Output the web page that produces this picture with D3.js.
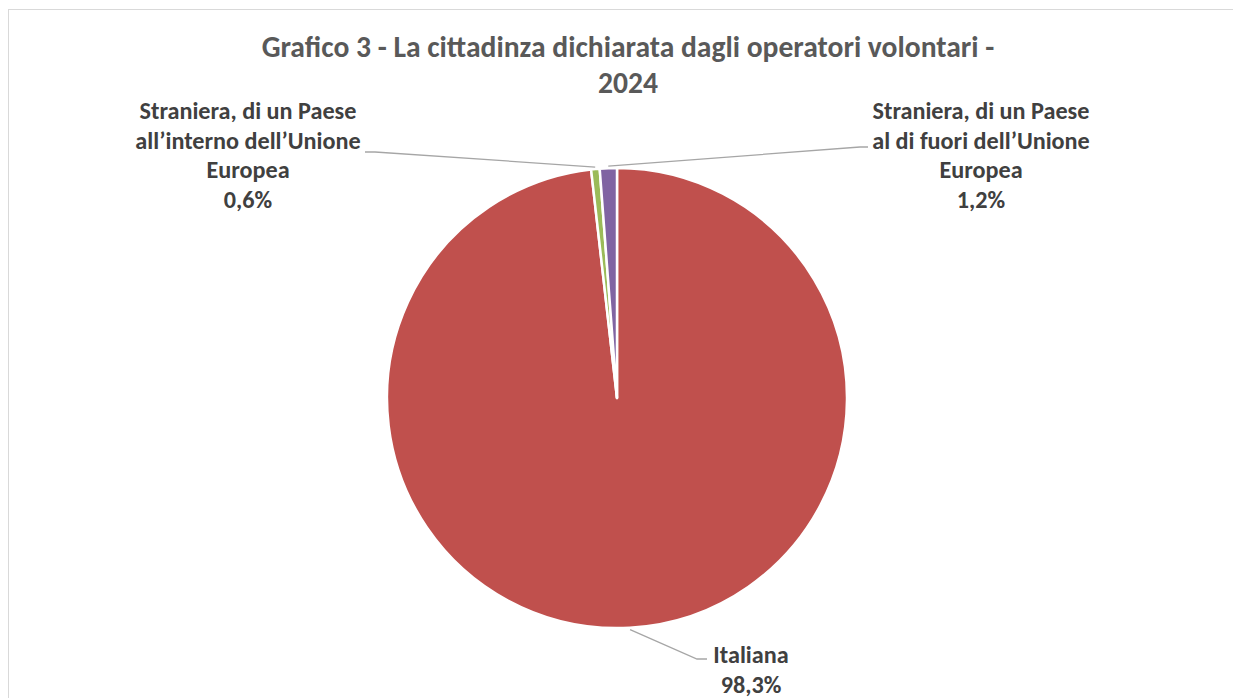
<!DOCTYPE html>
<html>
<head>
<meta charset="utf-8">
<script src="https://cdn.jsdelivr.net/npm/d3@7"></script>
<style>
  body { margin: 0; background: #fff; }
  text { font-family: Carlito, Calibri, Lato, "Open Sans", sans-serif; font-weight: bold; }
</style>
</head>
<body>
<div id="chart"></div>
<script>
// data
const categories = ["Italiana", "Straniera, di un Paese all\u2019interno dell\u2019Unione Europea", "Straniera, di un Paese al di fuori dell\u2019Unione Europea"];
const values = [98.3, 0.6, 1.2];
const valueLabels = ["98,3%", "0,6%", "1,2%"];
const labelLines = [
    ["Italiana"],
    ["Straniera, di un Paese", "all\u2019interno dell\u2019Unione", "Europea"],
    ["Straniera, di un Paese", "al di fuori dell\u2019Unione", "Europea"]
];
const colors = ["#C0504D", "#9BBB59", "#8064A2"];
const titleLines = ["Grafico 3 - La cittadinza dichiarata dagli operatori volontari -", "2024"];

const width = 1233, height = 698;
const cx = 617, cy = 398, radius = 230;

const svg = d3.select("#chart").append("svg")
    .attr("width", width)
    .attr("height", height);

// chart frame
svg.append("rect")
    .attr("x", 8.5).attr("y", 9.5)
    .attr("width", width).attr("height", height)
    .attr("fill", "none")
    .attr("stroke", "#D9D9D9")
    .attr("stroke-width", 1);

// title
const title = svg.append("text")
    .attr("text-anchor", "middle")
    .attr("fill", "#595959")
    .attr("font-size", 28);
titleLines.forEach((t, i) => {
    title.append("tspan").attr("x", 628).attr("y", 57 + i * 36).text(t);
});
// scale title font to reference width
const tw = title.select("tspan").node().getComputedTextLength();
title.attr("font-size", 28 * 733 / tw);

// pie
const pie = d3.pie().sort(null).value(d => d)(values);
const arc = d3.arc().innerRadius(0).outerRadius(radius);

const g = svg.append("g").attr("transform", `translate(${cx},${cy})`);
g.selectAll("path")
    .data(pie)
    .join("path")
    .attr("d", arc)
    .attr("fill", (d, i) => colors[i])
    .attr("stroke", "#fff")
    .attr("stroke-width", 2.5)
    .attr("stroke-linejoin", "round");

// labels: position of the text block (center x, first baseline) and elbow of the leader
const labelPos = [
    { x: 751, y: 663, elbow: [697, 659], end: [707, 659] },
    { x: 248, y: 119, elbow: [375, 152], end: [365, 152] },
    { x: 981, y: 119, elbow: [860, 147], end: [868, 147] }
];
const lineH = 29.5;

// font size so that "Straniera, di un Paese" is ~217px wide
const probe = svg.append("text").attr("font-size", 20).text(labelLines[1][0]);
const labelFont = 20 * 217 / probe.node().getComputedTextLength();
probe.remove();

pie.forEach((d, i) => {
    const mid = (d.startAngle + d.endAngle) / 2;
    const sx = cx + Math.sin(mid) * (radius + 2);
    const sy = cy - Math.cos(mid) * (radius + 2);
    const p = labelPos[i];
    svg.append("polyline")
        .attr("points", [[sx, sy], p.elbow, p.end].map(q => q.join(",")).join(" "))
        .attr("fill", "none")
        .attr("stroke", "#A6A6A6")
        .attr("stroke-width", 1.3);

    const t = svg.append("text")
        .attr("text-anchor", "middle")
        .attr("fill", "#404040")
        .attr("font-size", labelFont);
    labelLines[i].concat([valueLabels[i]]).forEach((line, k) => {
        t.append("tspan").attr("x", p.x).attr("y", p.y + k * lineH).text(line);
    });
});
</script>
</body>
</html>
